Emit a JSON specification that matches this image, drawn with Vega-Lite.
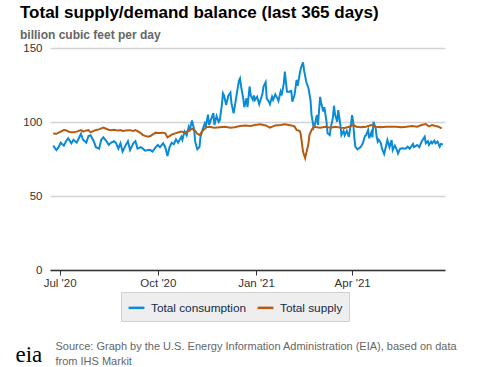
{
  "$schema": "https://vega.github.io/schema/vega-lite/v6.json",
  "width": 395,
  "height": 222,
  "autosize": {"type": "none"},
  "padding": {"left": 50, "top": 48, "right": 32, "bottom": 97},
  "background": "white",
  "config": {"view": {"stroke": null}, "font": "Liberation Sans"},
  "title": {
    "text": "Total supply/demand balance (last 365 days)",
    "subtitle": "billion cubic feet per day",
    "anchor": "start",
    "frame": "group",
    "dx": -30,
    "font": "Liberation Sans",
    "fontSize": 17,
    "fontWeight": "bold",
    "color": "#000000",
    "subtitleFont": "Liberation Sans",
    "subtitleFontSize": 12,
    "subtitleFontWeight": "bold",
    "subtitleColor": "#666666",
    "subtitlePadding": 8,
    "offset": 0
  },
  "datasets": {
    "consumption": [
      {"date":"2020-06-25","value":84},{"date":"2020-06-28","value":81},{"date":"2020-06-30","value":83},
      {"date":"2020-07-02","value":86},{"date":"2020-07-05","value":84},{"date":"2020-07-07","value":87},
      {"date":"2020-07-09","value":89},{"date":"2020-07-12","value":85.6},{"date":"2020-07-14","value":88},
      {"date":"2020-07-17","value":86},{"date":"2020-07-19","value":89},{"date":"2020-07-21","value":92},
      {"date":"2020-07-23","value":88},{"date":"2020-07-26","value":86},{"date":"2020-07-28","value":90.5},
      {"date":"2020-07-30","value":91},{"date":"2020-08-02","value":87},{"date":"2020-08-04","value":83},
      {"date":"2020-08-07","value":82},{"date":"2020-08-09","value":88},{"date":"2020-08-11","value":89.6},
      {"date":"2020-08-14","value":87},{"date":"2020-08-16","value":84.5},{"date":"2020-08-18","value":86},
      {"date":"2020-08-21","value":87},{"date":"2020-08-23","value":85.6},{"date":"2020-08-25","value":82},
      {"date":"2020-08-27","value":85.6},{"date":"2020-08-29","value":80},{"date":"2020-09-01","value":84.5},
      {"date":"2020-09-03","value":87},{"date":"2020-09-05","value":81},{"date":"2020-09-08","value":85.6},
      {"date":"2020-09-10","value":87},{"date":"2020-09-12","value":82},{"date":"2020-09-15","value":83},
      {"date":"2020-09-17","value":82},{"date":"2020-09-19","value":80.6},{"date":"2020-09-22","value":81},
      {"date":"2020-09-24","value":81},{"date":"2020-09-26","value":80},{"date":"2020-09-29","value":83},
      {"date":"2020-10-01","value":84.5},{"date":"2020-10-03","value":83},{"date":"2020-10-06","value":85.6},
      {"date":"2020-10-08","value":83},{"date":"2020-10-10","value":77},{"date":"2020-10-12","value":83},
      {"date":"2020-10-14","value":86},{"date":"2020-10-16","value":85},{"date":"2020-10-18","value":88.3},
      {"date":"2020-10-20","value":86},{"date":"2020-10-23","value":90},{"date":"2020-10-24","value":88},
      {"date":"2020-10-26","value":93.5},{"date":"2020-10-28","value":91},{"date":"2020-10-30","value":96.8},
      {"date":"2020-10-31","value":95},{"date":"2020-11-02","value":101},{"date":"2020-11-04","value":95},
      {"date":"2020-11-05","value":86.7},{"date":"2020-11-07","value":81.5},{"date":"2020-11-09","value":83},
      {"date":"2020-11-10","value":90},{"date":"2020-11-12","value":95},{"date":"2020-11-14","value":99},
      {"date":"2020-11-15","value":97},{"date":"2020-11-17","value":105},{"date":"2020-11-18","value":98},
      {"date":"2020-11-20","value":102},{"date":"2020-11-22","value":106},{"date":"2020-11-23","value":98},
      {"date":"2020-11-25","value":104},{"date":"2020-11-27","value":100},{"date":"2020-11-28","value":101},
      {"date":"2020-11-30","value":111.5},{"date":"2020-12-01","value":119.4},{"date":"2020-12-02","value":118},
      {"date":"2020-12-04","value":111.5},{"date":"2020-12-06","value":117.6},{"date":"2020-12-08","value":119.8},
      {"date":"2020-12-09","value":112.6},{"date":"2020-12-11","value":105.9},{"date":"2020-12-12","value":110},
      {"date":"2020-12-14","value":119.4},{"date":"2020-12-16","value":128},{"date":"2020-12-17","value":129.5},
      {"date":"2020-12-18","value":124},{"date":"2020-12-20","value":116},{"date":"2020-12-21","value":110},
      {"date":"2020-12-23","value":116},{"date":"2020-12-24","value":110},{"date":"2020-12-26","value":124},
      {"date":"2020-12-27","value":118},{"date":"2020-12-29","value":115},{"date":"2020-12-30","value":118},
      {"date":"2020-12-31","value":114.9},{"date":"2021-01-02","value":117},{"date":"2021-01-04","value":112},
      {"date":"2021-01-07","value":119},{"date":"2021-01-08","value":123.9},{"date":"2021-01-10","value":126.8},
      {"date":"2021-01-11","value":116},{"date":"2021-01-13","value":113.7},{"date":"2021-01-14","value":112},
      {"date":"2021-01-16","value":117},{"date":"2021-01-17","value":115},{"date":"2021-01-19","value":118.7},
      {"date":"2021-01-21","value":116},{"date":"2021-01-22","value":114.2},{"date":"2021-01-24","value":120.5},
      {"date":"2021-01-25","value":118},{"date":"2021-01-27","value":126.1},{"date":"2021-01-28","value":134},
      {"date":"2021-01-29","value":127},{"date":"2021-01-30","value":120.5},{"date":"2021-02-01","value":120.5},
      {"date":"2021-02-03","value":121},{"date":"2021-02-04","value":113.7},{"date":"2021-02-06","value":118},
      {"date":"2021-02-08","value":128.4},{"date":"2021-02-09","value":124.5},{"date":"2021-02-11","value":132.9},
      {"date":"2021-02-12","value":136.3},{"date":"2021-02-14","value":140.3},{"date":"2021-02-15","value":135},
      {"date":"2021-02-17","value":127.2},{"date":"2021-02-19","value":123.2},{"date":"2021-02-21","value":114.9},
      {"date":"2021-02-22","value":104.7},{"date":"2021-02-24","value":96.2},{"date":"2021-02-25","value":98},
      {"date":"2021-02-27","value":104.7},{"date":"2021-02-28","value":98},{"date":"2021-03-02","value":117},
      {"date":"2021-03-03","value":113},{"date":"2021-03-05","value":107},{"date":"2021-03-06","value":110},
      {"date":"2021-03-08","value":100.2},{"date":"2021-03-09","value":92.4},{"date":"2021-03-11","value":91.2},
      {"date":"2021-03-12","value":96},{"date":"2021-03-14","value":102.9},{"date":"2021-03-15","value":111},
      {"date":"2021-03-16","value":105},{"date":"2021-03-18","value":100.2},{"date":"2021-03-19","value":108},
      {"date":"2021-03-21","value":98},{"date":"2021-03-22","value":91.2},{"date":"2021-03-24","value":94},
      {"date":"2021-03-25","value":91},{"date":"2021-03-27","value":94},{"date":"2021-03-29","value":90},
      {"date":"2021-03-30","value":95},{"date":"2021-03-31","value":99},{"date":"2021-04-01","value":104.7},
      {"date":"2021-04-02","value":100},{"date":"2021-04-03","value":90},{"date":"2021-04-04","value":83.3},
      {"date":"2021-04-06","value":81.5},{"date":"2021-04-09","value":83},{"date":"2021-04-11","value":85.6},
      {"date":"2021-04-13","value":90.5},{"date":"2021-04-14","value":91},{"date":"2021-04-16","value":94.6},
      {"date":"2021-04-17","value":89},{"date":"2021-04-19","value":93},{"date":"2021-04-20","value":89.6},
      {"date":"2021-04-21","value":100.2},{"date":"2021-04-23","value":96},{"date":"2021-04-24","value":90},
      {"date":"2021-04-25","value":86.7},{"date":"2021-04-26","value":88},{"date":"2021-04-28","value":85.6},
      {"date":"2021-04-29","value":82},{"date":"2021-05-01","value":78.4},{"date":"2021-05-03","value":84.5},
      {"date":"2021-05-04","value":87.8},{"date":"2021-05-06","value":83},{"date":"2021-05-08","value":87.8},
      {"date":"2021-05-09","value":81},{"date":"2021-05-11","value":84},{"date":"2021-05-13","value":81},
      {"date":"2021-05-14","value":78.8},{"date":"2021-05-16","value":82},{"date":"2021-05-18","value":82.2},
      {"date":"2021-05-21","value":82},{"date":"2021-05-23","value":83.3},{"date":"2021-05-25","value":82},
      {"date":"2021-05-28","value":85.1},{"date":"2021-05-29","value":83},{"date":"2021-06-01","value":84.5},
      {"date":"2021-06-03","value":83},{"date":"2021-06-05","value":86.7},{"date":"2021-06-08","value":90},
      {"date":"2021-06-09","value":85.6},{"date":"2021-06-11","value":87},{"date":"2021-06-12","value":84.5},
      {"date":"2021-06-14","value":86.7},{"date":"2021-06-15","value":85.6},{"date":"2021-06-17","value":87.4},
      {"date":"2021-06-18","value":85.6},{"date":"2021-06-20","value":86.7},{"date":"2021-06-22","value":83.3},
      {"date":"2021-06-23","value":85.1},{"date":"2021-06-25","value":85}
    ],
    "supply": [
      {"date":"2020-06-25","value":92.3},{"date":"2020-06-28","value":92},{"date":"2020-07-02","value":93.5},
      {"date":"2020-07-05","value":94.6},{"date":"2020-07-07","value":94.5},{"date":"2020-07-09","value":93.6},
      {"date":"2020-07-12","value":93},{"date":"2020-07-14","value":93},{"date":"2020-07-17","value":93.5},
      {"date":"2020-07-19","value":94},{"date":"2020-07-21","value":94.5},{"date":"2020-07-23","value":93.5},
      {"date":"2020-07-26","value":94.3},{"date":"2020-07-28","value":94.5},{"date":"2020-07-30","value":93},
      {"date":"2020-08-02","value":94},{"date":"2020-08-04","value":94.6},{"date":"2020-08-07","value":95},
      {"date":"2020-08-09","value":95.7},{"date":"2020-08-11","value":96.2},{"date":"2020-08-14","value":95.3},
      {"date":"2020-08-16","value":94.8},{"date":"2020-08-18","value":94.5},{"date":"2020-08-21","value":94.8},
      {"date":"2020-08-23","value":94.5},{"date":"2020-08-25","value":94.3},{"date":"2020-08-27","value":94.5},
      {"date":"2020-08-29","value":94},{"date":"2020-09-01","value":94.2},{"date":"2020-09-05","value":94.5},
      {"date":"2020-09-08","value":94},{"date":"2020-09-10","value":94.5},{"date":"2020-09-12","value":93.8},
      {"date":"2020-09-15","value":92.5},{"date":"2020-09-17","value":91.2},{"date":"2020-09-19","value":90.6},
      {"date":"2020-09-22","value":90},{"date":"2020-09-24","value":90.5},{"date":"2020-09-26","value":91.5},
      {"date":"2020-09-29","value":92.8},{"date":"2020-10-01","value":92.5},{"date":"2020-10-03","value":92.5},
      {"date":"2020-10-06","value":92.8},{"date":"2020-10-08","value":92.3},{"date":"2020-10-10","value":89.6},
      {"date":"2020-10-12","value":90.5},{"date":"2020-10-14","value":91.5},{"date":"2020-10-18","value":92.5},
      {"date":"2020-10-23","value":93.5},{"date":"2020-10-26","value":93},{"date":"2020-10-30","value":94},
      {"date":"2020-11-02","value":95.5},{"date":"2020-11-05","value":94},{"date":"2020-11-07","value":92},
      {"date":"2020-11-09","value":91.2},{"date":"2020-11-12","value":94},{"date":"2020-11-15","value":96.4},
      {"date":"2020-11-18","value":96.8},{"date":"2020-11-23","value":96.2},{"date":"2020-11-28","value":96.5},
      {"date":"2020-12-03","value":96.8},{"date":"2020-12-08","value":96.2},{"date":"2020-12-12","value":96.5},
      {"date":"2020-12-17","value":97.3},{"date":"2020-12-22","value":97.7},{"date":"2020-12-27","value":97.3},
      {"date":"2020-12-31","value":98},{"date":"2021-01-05","value":98.4},{"date":"2021-01-10","value":97.7},
      {"date":"2021-01-14","value":96.2},{"date":"2021-01-19","value":97.7},{"date":"2021-01-24","value":98},
      {"date":"2021-01-28","value":98.4},{"date":"2021-02-03","value":97.7},{"date":"2021-02-06","value":97},
      {"date":"2021-02-08","value":94.6},{"date":"2021-02-11","value":93.9},{"date":"2021-02-12","value":91.2},
      {"date":"2021-02-13","value":85.6},{"date":"2021-02-14","value":80},{"date":"2021-02-16","value":75.5},
      {"date":"2021-02-17","value":78.8},{"date":"2021-02-19","value":84.9},{"date":"2021-02-20","value":91.2},
      {"date":"2021-02-22","value":94.6},{"date":"2021-02-24","value":96.8},{"date":"2021-03-02","value":96.2},
      {"date":"2021-03-07","value":96.8},{"date":"2021-03-12","value":96.2},{"date":"2021-03-16","value":96.8},
      {"date":"2021-03-21","value":96.2},{"date":"2021-03-25","value":96},{"date":"2021-03-30","value":97},
      {"date":"2021-04-02","value":98},{"date":"2021-04-05","value":96.8},{"date":"2021-04-09","value":96.4},
      {"date":"2021-04-14","value":96.8},{"date":"2021-04-19","value":98},{"date":"2021-04-23","value":96.8},
      {"date":"2021-04-28","value":96.4},{"date":"2021-05-03","value":96.8},{"date":"2021-05-08","value":96.8},
      {"date":"2021-05-12","value":96.8},{"date":"2021-05-17","value":96.4},{"date":"2021-05-22","value":96.8},
      {"date":"2021-05-27","value":97.3},{"date":"2021-06-01","value":96.8},{"date":"2021-06-05","value":98},
      {"date":"2021-06-09","value":98.6},{"date":"2021-06-12","value":97},{"date":"2021-06-15","value":98},
      {"date":"2021-06-18","value":97.3},{"date":"2021-06-21","value":96.8},{"date":"2021-06-24","value":95.7}
    ]
  },
  "encoding": {
    "x": {
      "field": "date",
      "type": "temporal",
      "scale": {"domain": ["2020-06-22", "2021-06-27"]},
      "axis": {
        "values": ["2020-07-01", "2020-10-01", "2021-01-01", "2021-04-01"],
        "format": "%b '%y",
        "grid": false,
        "domainColor": "#333333",
        "domainWidth": 1.5,
        "tickColor": "#333333",
        "tickSize": 5,
        "labelFont": "Liberation Sans",
        "labelFontSize": 11.5,
        "labelColor": "#333333",
        "labelPadding": 2,
        "title": ["Source: Graph by the U.S. Energy Information Administration (EIA), based on data", "from IHS Markit"],
        "titleFont": "Liberation Sans",
        "titleFontSize": 11,
        "titleFontWeight": "normal",
        "titleColor": "#666666",
        "titleAlign": "left",
        "titleBaseline": "alphabetic",
        "titleAnchor": "start",
        "titleX": 5,
        "titleY": 79,
        "titleLineHeight": 15
      }
    },
    "y": {
      "field": "value",
      "type": "quantitative",
      "scale": {"domain": [0, 150], "nice": false},
      "axis": {
        "values": [0, 50, 100, 150],
        "grid": true,
        "gridColor": "#d4d4d4",
        "gridWidth": 1.5,
        "domain": false,
        "ticks": false,
        "labelFont": "Liberation Sans",
        "labelFontSize": 11.5,
        "labelColor": "#333333",
        "labelPadding": 8,
        "title": "eia",
        "titleFont": "Liberation Serif",
        "titleFontSize": 23,
        "titleFontWeight": "normal",
        "titleColor": "#000000",
        "titleAngle": 0,
        "titleAlign": "left",
        "titleBaseline": "alphabetic",
        "titleX": -35,
        "titleY": 313
      }
    },
    "color": {
      "type": "nominal",
      "scale": {"domain": ["Total consumption", "Total supply"], "range": ["#0b8bd6", "#b55c10"]},
      "legend": {
        "title": null,
        "orient": "none",
        "legendX": 71,
        "legendY": 244,
        "direction": "horizontal",
        "symbolType": "stroke",
        "symbolStrokeWidth": 2.5,
        "symbolSize": 250,
        "labelFont": "Liberation Sans",
        "labelFontSize": 11.8,
        "labelColor": "#13294b",
        "labelOffset": 5,
        "fillColor": "#eeeeee",
        "strokeColor": "#d0d0d0",
        "padding": 6,
        "columnPadding": 5
      }
    }
  },
  "layer": [
    {
      "data": {"name": "consumption"},
      "mark": {"type": "line", "strokeWidth": 2},
      "encoding": {"color": {"datum": "Total consumption"}}
    },
    {
      "data": {"name": "supply"},
      "mark": {"type": "line", "strokeWidth": 2},
      "encoding": {"color": {"datum": "Total supply"}}
    }
  ]
}
